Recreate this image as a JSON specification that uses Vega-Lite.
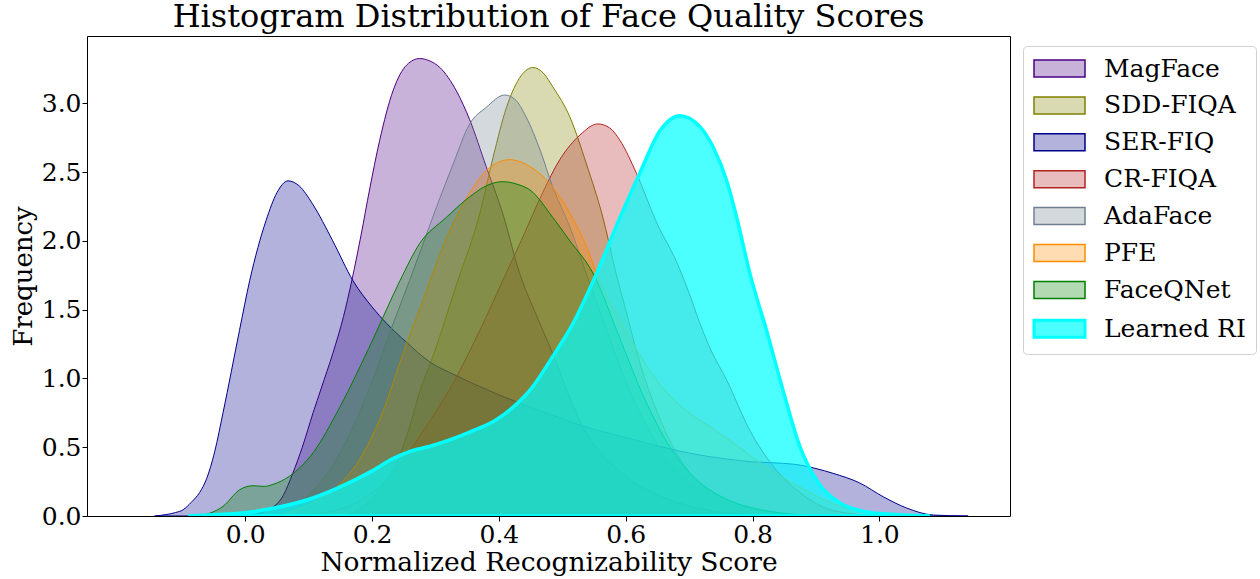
{
  "$schema": "https://vega.github.io/schema/vega-lite/v6.json",
  "autosize": {"type": "none"},
  "padding": {"left": 87, "top": 36, "right": 250, "bottom": 63},
  "width": 923,
  "height": 480,
  "background": "white",
  "config": {
    "view": {"stroke": "black", "strokeWidth": 1},
    "font": "DejaVu Serif"
  },
  "title": {
    "text": "Histogram Distribution of Face Quality Scores",
    "font": "DejaVu Serif",
    "fontSize": 32,
    "fontWeight": "normal",
    "color": "black",
    "anchor": "middle",
    "offset": 2
  },
  "data": {
    "values": [
      {"m": "MagFace", "x": 0.0, "y": 0},
      {"m": "MagFace", "x": 0.034, "y": 0.04},
      {"m": "MagFace", "x": 0.06, "y": 0.15},
      {"m": "MagFace", "x": 0.075, "y": 0.31},
      {"m": "MagFace", "x": 0.09, "y": 0.5},
      {"m": "MagFace", "x": 0.107, "y": 0.75},
      {"m": "MagFace", "x": 0.12, "y": 0.93},
      {"m": "MagFace", "x": 0.138, "y": 1.18},
      {"m": "MagFace", "x": 0.155, "y": 1.45},
      {"m": "MagFace", "x": 0.168, "y": 1.71},
      {"m": "MagFace", "x": 0.183, "y": 2.05},
      {"m": "MagFace", "x": 0.196, "y": 2.37},
      {"m": "MagFace", "x": 0.212, "y": 2.73},
      {"m": "MagFace", "x": 0.233, "y": 3.09},
      {"m": "MagFace", "x": 0.255, "y": 3.28},
      {"m": "MagFace", "x": 0.275, "y": 3.325},
      {"m": "MagFace", "x": 0.29, "y": 3.31},
      {"m": "MagFace", "x": 0.307, "y": 3.26},
      {"m": "MagFace", "x": 0.333, "y": 3.09},
      {"m": "MagFace", "x": 0.354, "y": 2.88},
      {"m": "MagFace", "x": 0.38, "y": 2.54},
      {"m": "MagFace", "x": 0.406, "y": 2.2},
      {"m": "MagFace", "x": 0.433, "y": 1.76},
      {"m": "MagFace", "x": 0.46, "y": 1.45},
      {"m": "MagFace", "x": 0.485, "y": 1.18},
      {"m": "MagFace", "x": 0.51, "y": 0.88},
      {"m": "MagFace", "x": 0.53, "y": 0.67},
      {"m": "MagFace", "x": 0.56, "y": 0.46},
      {"m": "MagFace", "x": 0.59, "y": 0.33},
      {"m": "MagFace", "x": 0.62, "y": 0.22},
      {"m": "MagFace", "x": 0.643, "y": 0.17},
      {"m": "MagFace", "x": 0.68, "y": 0.1},
      {"m": "MagFace", "x": 0.733, "y": 0.04},
      {"m": "MagFace", "x": 0.8, "y": 0.01},
      {"m": "MagFace", "x": 0.86, "y": 0},

      {"m": "SDD-FIQA", "x": 0.15, "y": 0},
      {"m": "SDD-FIQA", "x": 0.18, "y": 0.05},
      {"m": "SDD-FIQA", "x": 0.21, "y": 0.18},
      {"m": "SDD-FIQA", "x": 0.24, "y": 0.4},
      {"m": "SDD-FIQA", "x": 0.26, "y": 0.66},
      {"m": "SDD-FIQA", "x": 0.275, "y": 0.9},
      {"m": "SDD-FIQA", "x": 0.296, "y": 1.16},
      {"m": "SDD-FIQA", "x": 0.333, "y": 1.68},
      {"m": "SDD-FIQA", "x": 0.37, "y": 2.2},
      {"m": "SDD-FIQA", "x": 0.391, "y": 2.61},
      {"m": "SDD-FIQA", "x": 0.412, "y": 2.97},
      {"m": "SDD-FIQA", "x": 0.435, "y": 3.2},
      {"m": "SDD-FIQA", "x": 0.454, "y": 3.26},
      {"m": "SDD-FIQA", "x": 0.47, "y": 3.22},
      {"m": "SDD-FIQA", "x": 0.485, "y": 3.12},
      {"m": "SDD-FIQA", "x": 0.512, "y": 2.9},
      {"m": "SDD-FIQA", "x": 0.538, "y": 2.56},
      {"m": "SDD-FIQA", "x": 0.564, "y": 2.17},
      {"m": "SDD-FIQA", "x": 0.585, "y": 1.76},
      {"m": "SDD-FIQA", "x": 0.6, "y": 1.5},
      {"m": "SDD-FIQA", "x": 0.62, "y": 1.15},
      {"m": "SDD-FIQA", "x": 0.65, "y": 0.75},
      {"m": "SDD-FIQA", "x": 0.675, "y": 0.5},
      {"m": "SDD-FIQA", "x": 0.7, "y": 0.32},
      {"m": "SDD-FIQA", "x": 0.733, "y": 0.19},
      {"m": "SDD-FIQA", "x": 0.78, "y": 0.08},
      {"m": "SDD-FIQA", "x": 0.85, "y": 0.02},
      {"m": "SDD-FIQA", "x": 0.9, "y": 0},

      {"m": "SER-FIQ", "x": -0.143, "y": 0},
      {"m": "SER-FIQ", "x": -0.125, "y": 0.01},
      {"m": "SER-FIQ", "x": -0.11, "y": 0.025},
      {"m": "SER-FIQ", "x": -0.098, "y": 0.045},
      {"m": "SER-FIQ", "x": -0.085, "y": 0.1},
      {"m": "SER-FIQ", "x": -0.072, "y": 0.17},
      {"m": "SER-FIQ", "x": -0.061, "y": 0.27},
      {"m": "SER-FIQ", "x": -0.048, "y": 0.47},
      {"m": "SER-FIQ", "x": -0.035, "y": 0.75},
      {"m": "SER-FIQ", "x": -0.009, "y": 1.35},
      {"m": "SER-FIQ", "x": 0.007, "y": 1.71},
      {"m": "SER-FIQ", "x": 0.033, "y": 2.15},
      {"m": "SER-FIQ", "x": 0.05, "y": 2.35},
      {"m": "SER-FIQ", "x": 0.0675, "y": 2.436},
      {"m": "SER-FIQ", "x": 0.085, "y": 2.4},
      {"m": "SER-FIQ", "x": 0.106, "y": 2.27},
      {"m": "SER-FIQ", "x": 0.138, "y": 2.0},
      {"m": "SER-FIQ", "x": 0.17, "y": 1.71},
      {"m": "SER-FIQ", "x": 0.2, "y": 1.52},
      {"m": "SER-FIQ", "x": 0.223, "y": 1.4},
      {"m": "SER-FIQ", "x": 0.255, "y": 1.26},
      {"m": "SER-FIQ", "x": 0.291, "y": 1.12},
      {"m": "SER-FIQ", "x": 0.333, "y": 1.02},
      {"m": "SER-FIQ", "x": 0.38, "y": 0.92},
      {"m": "SER-FIQ", "x": 0.433, "y": 0.82},
      {"m": "SER-FIQ", "x": 0.48, "y": 0.74},
      {"m": "SER-FIQ", "x": 0.528, "y": 0.66},
      {"m": "SER-FIQ", "x": 0.601, "y": 0.57},
      {"m": "SER-FIQ", "x": 0.65, "y": 0.51},
      {"m": "SER-FIQ", "x": 0.717, "y": 0.443},
      {"m": "SER-FIQ", "x": 0.75, "y": 0.42},
      {"m": "SER-FIQ", "x": 0.796, "y": 0.395},
      {"m": "SER-FIQ", "x": 0.84, "y": 0.385},
      {"m": "SER-FIQ", "x": 0.875, "y": 0.37},
      {"m": "SER-FIQ", "x": 0.9, "y": 0.345},
      {"m": "SER-FIQ", "x": 0.927, "y": 0.31},
      {"m": "SER-FIQ", "x": 0.969, "y": 0.24},
      {"m": "SER-FIQ", "x": 1.006, "y": 0.14},
      {"m": "SER-FIQ", "x": 1.043, "y": 0.058},
      {"m": "SER-FIQ", "x": 1.085, "y": 0.007},
      {"m": "SER-FIQ", "x": 1.14, "y": 0},

      {"m": "CR-FIQA", "x": 0.08, "y": 0},
      {"m": "CR-FIQA", "x": 0.15, "y": 0.05},
      {"m": "CR-FIQA", "x": 0.2, "y": 0.17},
      {"m": "CR-FIQA", "x": 0.24, "y": 0.35},
      {"m": "CR-FIQA", "x": 0.275, "y": 0.58},
      {"m": "CR-FIQA", "x": 0.333, "y": 1.01},
      {"m": "CR-FIQA", "x": 0.37, "y": 1.35},
      {"m": "CR-FIQA", "x": 0.406, "y": 1.71},
      {"m": "CR-FIQA", "x": 0.438, "y": 2.03},
      {"m": "CR-FIQA", "x": 0.469, "y": 2.35},
      {"m": "CR-FIQA", "x": 0.496, "y": 2.59},
      {"m": "CR-FIQA", "x": 0.528, "y": 2.77},
      {"m": "CR-FIQA", "x": 0.556, "y": 2.85},
      {"m": "CR-FIQA", "x": 0.575, "y": 2.82},
      {"m": "CR-FIQA", "x": 0.591, "y": 2.73},
      {"m": "CR-FIQA", "x": 0.617, "y": 2.49},
      {"m": "CR-FIQA", "x": 0.65, "y": 2.12},
      {"m": "CR-FIQA", "x": 0.68, "y": 1.85},
      {"m": "CR-FIQA", "x": 0.7, "y": 1.62},
      {"m": "CR-FIQA", "x": 0.717, "y": 1.4},
      {"m": "CR-FIQA", "x": 0.735, "y": 1.2},
      {"m": "CR-FIQA", "x": 0.759, "y": 0.99},
      {"m": "CR-FIQA", "x": 0.796, "y": 0.62},
      {"m": "CR-FIQA", "x": 0.833, "y": 0.36},
      {"m": "CR-FIQA", "x": 0.875, "y": 0.17},
      {"m": "CR-FIQA", "x": 0.927, "y": 0.04},
      {"m": "CR-FIQA", "x": 1.0, "y": 0},

      {"m": "AdaFace", "x": 0.03, "y": 0},
      {"m": "AdaFace", "x": 0.07, "y": 0.05},
      {"m": "AdaFace", "x": 0.1, "y": 0.15},
      {"m": "AdaFace", "x": 0.14, "y": 0.38},
      {"m": "AdaFace", "x": 0.18, "y": 0.75},
      {"m": "AdaFace", "x": 0.21, "y": 1.1},
      {"m": "AdaFace", "x": 0.235, "y": 1.42},
      {"m": "AdaFace", "x": 0.259, "y": 1.71},
      {"m": "AdaFace", "x": 0.275, "y": 1.91},
      {"m": "AdaFace", "x": 0.302, "y": 2.25},
      {"m": "AdaFace", "x": 0.328, "y": 2.56},
      {"m": "AdaFace", "x": 0.354, "y": 2.85},
      {"m": "AdaFace", "x": 0.38, "y": 2.97},
      {"m": "AdaFace", "x": 0.409, "y": 3.06},
      {"m": "AdaFace", "x": 0.425, "y": 3.03},
      {"m": "AdaFace", "x": 0.443, "y": 2.9},
      {"m": "AdaFace", "x": 0.465, "y": 2.66},
      {"m": "AdaFace", "x": 0.485, "y": 2.39},
      {"m": "AdaFace", "x": 0.512, "y": 2.1},
      {"m": "AdaFace", "x": 0.538, "y": 1.76},
      {"m": "AdaFace", "x": 0.57, "y": 1.35},
      {"m": "AdaFace", "x": 0.6, "y": 0.98},
      {"m": "AdaFace", "x": 0.63, "y": 0.68},
      {"m": "AdaFace", "x": 0.66, "y": 0.45},
      {"m": "AdaFace", "x": 0.7, "y": 0.25},
      {"m": "AdaFace", "x": 0.75, "y": 0.11},
      {"m": "AdaFace", "x": 0.8, "y": 0.04},
      {"m": "AdaFace", "x": 0.87, "y": 0},

      {"m": "PFE", "x": 0.05, "y": 0},
      {"m": "PFE", "x": 0.1, "y": 0.08},
      {"m": "PFE", "x": 0.144, "y": 0.21},
      {"m": "PFE", "x": 0.176, "y": 0.38},
      {"m": "PFE", "x": 0.212, "y": 0.7},
      {"m": "PFE", "x": 0.255, "y": 1.26},
      {"m": "PFE", "x": 0.286, "y": 1.64},
      {"m": "PFE", "x": 0.3, "y": 1.82},
      {"m": "PFE", "x": 0.328, "y": 2.13},
      {"m": "PFE", "x": 0.354, "y": 2.35},
      {"m": "PFE", "x": 0.38, "y": 2.51},
      {"m": "PFE", "x": 0.417, "y": 2.59},
      {"m": "PFE", "x": 0.449, "y": 2.54},
      {"m": "PFE", "x": 0.485, "y": 2.39},
      {"m": "PFE", "x": 0.512, "y": 2.2},
      {"m": "PFE", "x": 0.538, "y": 1.96},
      {"m": "PFE", "x": 0.556, "y": 1.74},
      {"m": "PFE", "x": 0.6, "y": 1.35},
      {"m": "PFE", "x": 0.65, "y": 0.98},
      {"m": "PFE", "x": 0.7, "y": 0.75},
      {"m": "PFE", "x": 0.733, "y": 0.65},
      {"m": "PFE", "x": 0.77, "y": 0.53},
      {"m": "PFE", "x": 0.82, "y": 0.36},
      {"m": "PFE", "x": 0.875, "y": 0.21},
      {"m": "PFE", "x": 0.927, "y": 0.09},
      {"m": "PFE", "x": 0.97, "y": 0.03},
      {"m": "PFE", "x": 1.02, "y": 0},

      {"m": "FaceQNet", "x": -0.08, "y": 0},
      {"m": "FaceQNet", "x": -0.056, "y": 0.02},
      {"m": "FaceQNet", "x": -0.035, "y": 0.07},
      {"m": "FaceQNet", "x": -0.009, "y": 0.19},
      {"m": "FaceQNet", "x": 0.012, "y": 0.22},
      {"m": "FaceQNet", "x": 0.03, "y": 0.215},
      {"m": "FaceQNet", "x": 0.044, "y": 0.23},
      {"m": "FaceQNet", "x": 0.07, "y": 0.29},
      {"m": "FaceQNet", "x": 0.107, "y": 0.46},
      {"m": "FaceQNet", "x": 0.149, "y": 0.79},
      {"m": "FaceQNet", "x": 0.201, "y": 1.28},
      {"m": "FaceQNet", "x": 0.244, "y": 1.71},
      {"m": "FaceQNet", "x": 0.275, "y": 1.98},
      {"m": "FaceQNet", "x": 0.317, "y": 2.17},
      {"m": "FaceQNet", "x": 0.354, "y": 2.32},
      {"m": "FaceQNet", "x": 0.38, "y": 2.4},
      {"m": "FaceQNet", "x": 0.406, "y": 2.43},
      {"m": "FaceQNet", "x": 0.43, "y": 2.41},
      {"m": "FaceQNet", "x": 0.449, "y": 2.37},
      {"m": "FaceQNet", "x": 0.485, "y": 2.17},
      {"m": "FaceQNet", "x": 0.512, "y": 2.0},
      {"m": "FaceQNet", "x": 0.549, "y": 1.76},
      {"m": "FaceQNet", "x": 0.59, "y": 1.3},
      {"m": "FaceQNet", "x": 0.63, "y": 0.85},
      {"m": "FaceQNet", "x": 0.67, "y": 0.5},
      {"m": "FaceQNet", "x": 0.71, "y": 0.27},
      {"m": "FaceQNet", "x": 0.76, "y": 0.12},
      {"m": "FaceQNet", "x": 0.82, "y": 0.04},
      {"m": "FaceQNet", "x": 0.9, "y": 0},

      {"m": "Learned RI", "x": -0.09, "y": 0},
      {"m": "Learned RI", "x": -0.05, "y": 0.01},
      {"m": "Learned RI", "x": -0.009, "y": 0.02},
      {"m": "Learned RI", "x": 0.044, "y": 0.056},
      {"m": "Learned RI", "x": 0.097, "y": 0.116},
      {"m": "Learned RI", "x": 0.149, "y": 0.21},
      {"m": "Learned RI", "x": 0.201, "y": 0.33},
      {"m": "Learned RI", "x": 0.232, "y": 0.415},
      {"m": "Learned RI", "x": 0.26, "y": 0.47},
      {"m": "Learned RI", "x": 0.29, "y": 0.505},
      {"m": "Learned RI", "x": 0.32, "y": 0.55},
      {"m": "Learned RI", "x": 0.354, "y": 0.61},
      {"m": "Learned RI", "x": 0.396, "y": 0.7},
      {"m": "Learned RI", "x": 0.422, "y": 0.79},
      {"m": "Learned RI", "x": 0.449, "y": 0.915},
      {"m": "Learned RI", "x": 0.485, "y": 1.16},
      {"m": "Learned RI", "x": 0.517, "y": 1.4},
      {"m": "Learned RI", "x": 0.549, "y": 1.71},
      {"m": "Learned RI", "x": 0.591, "y": 2.17},
      {"m": "Learned RI", "x": 0.622, "y": 2.49},
      {"m": "Learned RI", "x": 0.654, "y": 2.8},
      {"m": "Learned RI", "x": 0.685, "y": 2.91},
      {"m": "Learned RI", "x": 0.717, "y": 2.83},
      {"m": "Learned RI", "x": 0.738, "y": 2.68},
      {"m": "Learned RI", "x": 0.759, "y": 2.44},
      {"m": "Learned RI", "x": 0.775, "y": 2.17},
      {"m": "Learned RI", "x": 0.796, "y": 1.76},
      {"m": "Learned RI", "x": 0.822, "y": 1.35},
      {"m": "Learned RI", "x": 0.848, "y": 0.915},
      {"m": "Learned RI", "x": 0.875, "y": 0.5},
      {"m": "Learned RI", "x": 0.901, "y": 0.26},
      {"m": "Learned RI", "x": 0.938, "y": 0.094},
      {"m": "Learned RI", "x": 0.98, "y": 0.03},
      {"m": "Learned RI", "x": 1.02, "y": 0.012},
      {"m": "Learned RI", "x": 1.08, "y": 0}
    ]
  },
  "mark": {"type": "area", "interpolate": "monotone", "clip": true},
  "encoding": {
    "x": {
      "field": "x",
      "type": "quantitative",
      "scale": {"domain": [-0.2495, 1.206], "nice": false, "zero": false},
      "axis": {
        "values": [0, 0.2, 0.4, 0.6, 0.8, 1.0],
        "format": ".1f",
        "title": "Normalized Recognizability Score",
        "grid": false,
        "domain": false,
        "ticks": true,
        "tickSize": 5,
        "tickColor": "black",
        "labelFont": "DejaVu Serif",
        "labelFontSize": 25,
        "labelColor": "black",
        "labelPadding": 1,
        "labelFlush": false,
        "titleFont": "DejaVu Serif",
        "titleFontSize": 26.5,
        "titleFontWeight": "normal",
        "titleColor": "black",
        "titlePadding": 2
      }
    },
    "y": {
      "field": "y",
      "type": "quantitative",
      "stack": null,
      "scale": {"domain": [0, 3.489], "nice": false},
      "axis": {
        "values": [0, 0.5, 1, 1.5, 2, 2.5, 3],
        "format": ".1f",
        "title": "Frequency",
        "grid": false,
        "domain": false,
        "ticks": true,
        "tickSize": 5,
        "tickColor": "black",
        "labelFont": "DejaVu Serif",
        "labelFontSize": 25,
        "labelColor": "black",
        "labelPadding": 1,
        "labelFlush": false,
        "titleFont": "DejaVu Serif",
        "titleFontSize": 26,
        "titleFontWeight": "normal",
        "titleColor": "black",
        "titlePadding": 5
      }
    },
    "fill": {
      "field": "m",
      "type": "nominal",
      "scale": {
        "domain": ["MagFace", "SDD-FIQA", "SER-FIQ", "CR-FIQA", "AdaFace", "PFE", "FaceQNet", "Learned RI"],
        "range": ["#4B0082", "#808000", "#00008B", "#B22222", "#708090", "#FF8C00", "#008000", "#00FFFF"]
      },
      "legend": {
        "orient": "none",
        "legendX": 936,
        "legendY": 10,
        "title": null,
        "symbolType": "M-2.55,-0.85H2.55V0.85H-2.55Z",
        "symbolSize": 400,
        "symbolOffset": 14,
        "labelOffset": 32,
        "labelFont": "DejaVu Serif",
        "labelFontSize": 25,
        "labelColor": "black",
        "rowPadding": 10.9,
        "padding": 10,
        "strokeColor": "#d0d0d0",
        "fillColor": "white",
        "cornerRadius": 4,
        "encode": {
          "symbols": {
            "update": {
              "fillOpacity": {"signal": "datum.value === 'Learned RI' ? 0.7 : 0.3"},
              "strokeWidth": {"signal": "datum.value === 'Learned RI' ? 3 : 1.5"},
              "opacity": {"value": 1}
            }
          }
        }
      }
    },
    "stroke": {
      "field": "m",
      "type": "nominal",
      "scale": {
        "domain": ["MagFace", "SDD-FIQA", "SER-FIQ", "CR-FIQA", "AdaFace", "PFE", "FaceQNet", "Learned RI"],
        "range": ["#4B0082", "#808000", "#00008B", "#B22222", "#708090", "#FF8C00", "#008000", "#00FFFF"]
      }
    },
    "fillOpacity": {
      "condition": {"test": "datum.m === 'Learned RI'", "value": 0.7},
      "value": 0.3
    },
    "strokeWidth": {
      "condition": {"test": "datum.m === 'Learned RI'", "value": 3.5},
      "value": 1
    }
  }
}
